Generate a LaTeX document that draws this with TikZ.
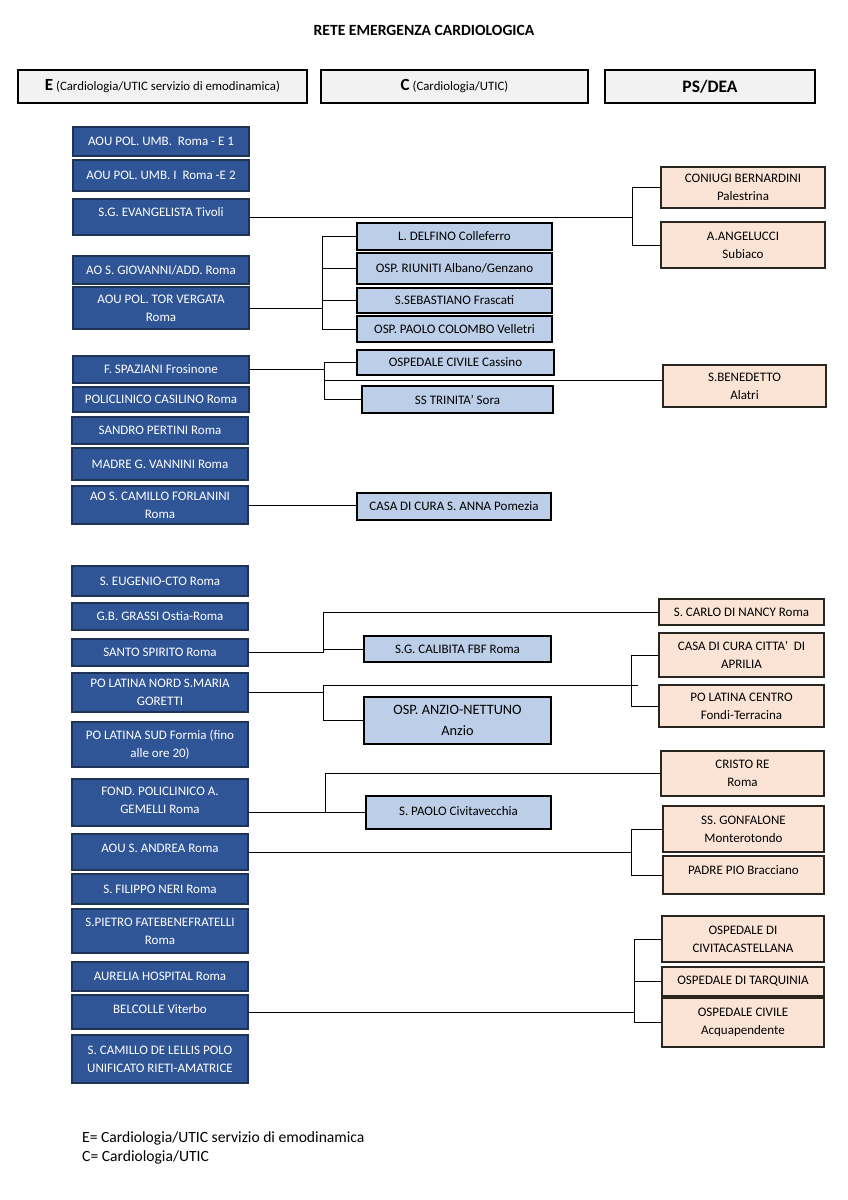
\documentclass[tikz,border=0pt]{standalone}
\usepackage{fontspec}
\setmainfont{Carlito}
\definecolor{ecol}{HTML}{2F5597}
\definecolor{eline}{HTML}{1F3357}
\definecolor{ccol}{HTML}{BCCEE8}
\definecolor{pcol}{HTML}{FBE4D5}
\definecolor{pline}{HTML}{2B2520}
\definecolor{hcol}{HTML}{F2F2F2}

\begin{document}
\begin{tikzpicture}[x=1pt,y=-1pt,
    ebox/.style={draw=eline, fill=ecol, text=white, line width=1.2pt, minimum width=176,
        align=center, inner sep=1pt, font=\fontsize{13}{18}\selectfont},
    cbox/.style={draw=black, fill=ccol, line width=1.2pt, align=center, inner sep=1pt,
        font=\fontsize{13}{18}\selectfont},
    pbox/.style={draw=pline, fill=pcol, line width=1.2pt, align=center, inner sep=1pt,
        font=\fontsize{13}{18}\selectfont},
    hbox/.style={draw=black, fill=hcol, line width=1.2pt, minimum height=33, inner sep=1pt,
        font=\fontsize{12.8}{15}\selectfont},
    link/.style={line width=1pt}]
    \fill[white] (0,0) rectangle (848,1200);
    \useasboundingbox (0,0) rectangle (848,1200);

    \node[font=\bfseries\fontsize{15.6}{18}\selectfont] (title) at (424,30) {RETE EMERGENZA CARDIOLOGICA};

    \node[hbox, minimum width=289] (hE) at (162.5,86.5)
        {{\fontsize{17}{18}\selectfont\bfseries E} (Cardiologia/UTIC servizio di emodinamica)};
    \node[hbox, minimum width=267] (hC) at (454.5,86.5)
        {{\fontsize{17}{18}\selectfont\bfseries C} (Cardiologia/UTIC)};
    \node[hbox, minimum width=210, font=\bfseries\fontsize{17.5}{18}\selectfont] (hP) at (710,86.5) {PS/DEA};

    % colonna E
    \node[ebox, minimum height=29] (umb1) at (161,141.5) {AOU POL. UMB.\ \ Roma - E 1};
    \node[ebox, minimum height=31] (umb2) at (161,175.5) {AOU POL. UMB. I\ \ Roma -E 2};
    \node[ebox, minimum height=36, text depth=10pt] (evang) at (161,217) {S.G. EVANGELISTA Tivoli};
    \node[ebox, minimum height=28] (giov) at (161,270) {AO S. GIOVANNI/ADD. Roma};
    \node[ebox, minimum height=42] (torverg) at (161,308) {AOU POL. TOR VERGATA\\Roma};
    \node[ebox, minimum height=27] (spaz) at (161,369.5) {F. SPAZIANI Frosinone};
    \node[ebox, minimum height=25] (casil) at (161,399.5) {POLICLINICO CASILINO Roma};
    \node[ebox, minimum height=27] (pertini) at (160,430.5) {SANDRO PERTINI Roma};
    \node[ebox, minimum height=32] (vannini) at (160,464) {MADRE G. VANNINI Roma};
    \node[ebox, minimum height=38] (forlan) at (160,505) {AO S. CAMILLO FORLANINI\\Roma};

    \node[ebox, minimum height=30] (eugenio) at (160,581) {S. EUGENIO-CTO Roma};
    \node[ebox, minimum height=27] (grassi) at (160,616.5) {G.B. GRASSI Ostia-Roma};
    \node[ebox, minimum height=27] (spirito) at (160,652.5) {SANTO SPIRITO Roma};
    \node[ebox, minimum height=39] (lnord) at (160,692.5) {PO LATINA NORD S.MARIA\\GORETTI};
    \node[ebox, minimum height=45] (lsud) at (160,744.5) {PO LATINA SUD Formia (fino\\alle ore 20)};
    \node[ebox, minimum height=47, text depth=5pt] (gemelli) at (160,802.5) {FOND. POLICLINICO A.\\GEMELLI Roma};
    \node[ebox, minimum height=36, text depth=8pt] (andrea) at (160,852) {AOU S. ANDREA Roma};
    \node[ebox, minimum height=30] (filippo) at (160,889) {S. FILIPPO NERI Roma};
    \node[ebox, minimum height=44] (spietro) at (160,931) {S.PIETRO FATEBENEFRATELLI\\Roma};
    \node[ebox, minimum height=29] (aurelia) at (160,976.5) {AURELIA HOSPITAL Roma};
    \node[ebox, minimum height=34, text depth=6pt] (belcolle) at (160,1012) {BELCOLLE Viterbo};
    \node[ebox, minimum height=48] (lellis) at (160,1059) {S. CAMILLO DE LELLIS POLO\\UNIFICATO RIETI-AMATRICE};

    % colonna C
    \node[cbox, minimum width=195, minimum height=27] (delfino) at (454.5,236.5) {L. DELFINO Colleferro};
    \node[cbox, minimum width=195, minimum height=31] (riuniti) at (454.5,268.5) {OSP. RIUNITI Albano/Genzano};
    \node[cbox, minimum width=195, minimum height=25] (sebast) at (454.5,300.5) {S.SEBASTIANO Frascati};
    \node[cbox, minimum width=195, minimum height=26] (colombo) at (454.5,329) {OSP. PAOLO COLOMBO Velletri};
    \node[cbox, minimum width=197, minimum height=25] (cassino) at (455.5,362.5) {OSPEDALE CIVILE Cassino};
    \node[cbox, minimum width=191, minimum height=27] (sora) at (457.5,399.5) {SS TRINITA’ Sora};
    \node[cbox, minimum width=194, minimum height=27] (sanna) at (454,506.5) {CASA DI CURA S. ANNA Pomezia};
    \node[cbox, minimum width=187, minimum height=26] (calibita) at (457.5,649) {S.G. CALIBITA FBF Roma};
    \node[cbox, minimum width=187, minimum height=47, font=\fontsize{14.3}{21}\selectfont] (anzio) at (457.5,720.5) {OSP. ANZIO-NETTUNO\\Anzio};
    \node[cbox, minimum width=185, minimum height=33, text depth=4pt] (spaolo) at (458.5,812.5) {S. PAOLO Civitavecchia};

    % colonna PS/DEA
    \node[pbox, minimum width=164, minimum height=41] (bern) at (743,187.5) {CONIUGI BERNARDINI\\Palestrina};
    \node[pbox, minimum width=164, minimum height=46] (angel) at (743,245) {A.ANGELUCCI\\Subiaco};
    \node[pbox, minimum width=163, minimum height=42] (bened) at (744.5,386) {S.BENEDETTO\\Alatri};
    \node[pbox, minimum width=165, minimum height=26] (scarlo) at (741.5,612) {S. CARLO DI NANCY Roma};
    \node[pbox, minimum width=165, minimum height=44] (aprilia) at (741.5,655) {CASA DI CURA CITTA’\ \ DI\\APRILIA};
    \node[pbox, minimum width=165, minimum height=42] (centro) at (741.5,706) {PO LATINA CENTRO\\Fondi-Terracina};
    \node[pbox, minimum width=163, minimum height=45] (cristo) at (742.5,773.5) {CRISTO RE\\Roma};
    \node[pbox, minimum width=161, minimum height=46] (gonf) at (743.5,829) {SS. GONFALONE\\Monterotondo};
    \node[pbox, minimum width=161, minimum height=38, text depth=10pt] (padrepio) at (743.5,875) {PADRE PIO Bracciano};
    \node[pbox, minimum width=162, minimum height=46] (civita) at (743,939) {OSPEDALE DI\\CIVITACASTELLANA};
    \node[pbox, minimum width=162, minimum height=29] (tarq) at (743,981.5) {OSPEDALE DI TARQUINIA};
    \node[pbox, minimum width=162, minimum height=49] (acqua) at (743,1022.5) {OSPEDALE CIVILE\\Acquapendente};

    \coordinate (s1) at (632,0);
    \coordinate (s2) at (322,0);
    \coordinate (s3) at (324,380);
    \coordinate (s5) at (323,0);
    \coordinate (s6) at (323,685);
    \coordinate (s6r) at (631,685);
    \coordinate (s7) at (325,0);
    \coordinate (s8) at (631,0);
    \coordinate (s9) at (634,0);

    \draw[link] (evang.east) -- (evang.east -| s1);
    \draw[link] (bern.west) -| (s1 |- angel.west) -- (angel.west);

    \draw[link] (torverg.east) -- (torverg.east -| s2);
    \draw[link] (delfino.west) -| (s2 |- colombo.west) -- (colombo.west);
    \draw[link] (riuniti.west) -- (riuniti.west -| s2);
    \draw[link] (sebast.west) -- (sebast.west -| s2);

    \draw[link] (spaz.east) -- (spaz.east -| s3);
    \draw[link] (cassino.west) -| (s3 |- sora.west) -- (sora.west);
    \draw[link] (s3) -- (s3 -| bened.west);

    \draw[link] (forlan.east) -- (forlan.east -| sanna.west);

    \draw[link] (spirito.east) -- (spirito.east -| s5);
    \draw[link] (scarlo.west) -| (s5 |- spirito.east);
    \draw[link] (calibita.west) -- (calibita.west -| s5);

    \draw[link] (lnord.east) -- (lnord.east -| s6);
    \draw[link] (s6) |- (anzio.west);
    \draw[link] (s6) -- ([xshift=7]s6r);
    \draw[link] (aprilia.west) -| (s6r |- centro.west) -- (centro.west);

    \draw[link] (gemelli.east |- spaolo.west) -- (spaolo.west);
    \draw[link] (cristo.west) -| (s7 |- spaolo.west);

    \draw[link] (andrea.east) -- (andrea.east -| s8);
    \draw[link] (gonf.west) -| (s8 |- padrepio.west) -- (padrepio.west);

    \draw[link] (belcolle.east) -- (belcolle.east -| s9);
    \draw[link] (civita.west) -| (s9 |- acqua.west) -- (acqua.west);
    \draw[link] (tarq.west) -- (tarq.west -| s9);

    \node[anchor=north west, align=left, inner sep=0, font=\fontsize{15.6}{19}\selectfont] (legend) at (82,1131)
        {E= Cardiologia/UTIC servizio di emodinamica\\C= Cardiologia/UTIC};
\end{tikzpicture}
\end{document}
